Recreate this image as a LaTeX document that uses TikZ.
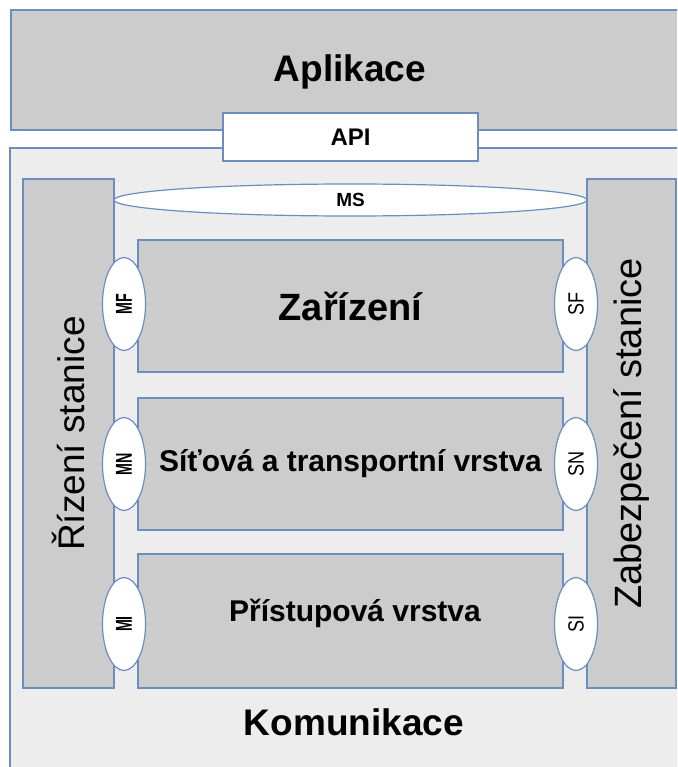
\documentclass[tikz,border=0pt]{standalone}
\usepackage{fontspec}
\usepackage{graphicx}
\setmainfont{Liberation Sans}
\usetikzlibrary{shapes.geometric}
\definecolor{bordercol}{HTML}{6C8EBF}
\definecolor{boxgray}{HTML}{CCCCCC}
\definecolor{bggray}{HTML}{EDEDED}
\newcommand{\fsz}[1]{\fontsize{#1}{#1}\selectfont}
\begin{document}
\begin{tikzpicture}[x=1pt,y=-1pt,
  outl/.style={draw=bordercol, line width=1.2pt},
  graybox/.style={outl, fill=boxgray},
  layerbox/.style={graybox, minimum width=425pt, minimum height=132pt, inner sep=0pt},
  whitebox/.style={outl, fill=white},
  sideell/.style={outl, fill=white, ellipse, minimum width=43pt, minimum height=93pt, inner sep=0pt},
  lbl/.style={inner sep=0pt, text=black}]
\useasboundingbox (0,0) rectangle (677,767);
\clip (0,0) rectangle (677,767);
% Aplikace
\path[graybox] (11,10) rectangle (720,130);
\node[lbl] (apl) at (350,72) {\fsz{37}\bfseries Aplikace};
% Komunikace background
\path[outl, fill=bggray] (10,148) rectangle (720,800);
\node[lbl] (kom) at (354,722) {\fsz{37}\bfseries Komunikace};
% API
\node[whitebox, minimum width=255pt, minimum height=48pt, inner sep=0pt] (api) at (350.5,137) {\fsz{24}\bfseries API};
% side boxes
\node[graybox, minimum width=91pt, minimum height=509pt, inner sep=0pt] (rizeni) at (68.5,433.5) {\rotatebox{90}{\fsz{37}Řízení stanice}};
\path[graybox] (587,179) rectangle (676,688);
\node[lbl, rotate=90] (zabez) at (631,433.5) {\fsz{38}Zabezpečení stanice};
% MS ellipse
\node[outl, fill=white, ellipse, minimum width=473pt, minimum height=32pt, inner sep=0pt] (ms) at (350.5,200) {\fsz{19}\bfseries MS};
% layers
\node[layerbox] (zar) at (350.5,306) {\fsz{38}\bfseries Zařízení};
\node[layerbox] (sit) at (350.5,464) {\fsz{30}\bfseries Síťová a transportní vrstva};
\node[layerbox, minimum height=134pt] (pri) at (350.5,621) {};
\node[lbl] (pritxt) at (355,613) {\fsz{30}\bfseries Přístupová vrstva};
% small ellipses left
\node[sideell] (mf) at (124,304) {\rotatebox{90}{\scalebox{0.62}[1]{\fsz{23}\bfseries MF}}};
\node[sideell] (mn) at (124,464) {\rotatebox{90}{\scalebox{0.62}[1]{\fsz{23}\bfseries MN}}};
\node[sideell] (mi) at (124,624) {\rotatebox{90}{\scalebox{0.62}[1]{\fsz{23}\bfseries MI}}};
% small ellipses right
\node[sideell] (sf) at (576,304) {\rotatebox{90}{\scalebox{0.82}[1]{\fsz{22}SF}}};
\node[sideell] (sn) at (576,464) {\rotatebox{90}{\scalebox{0.82}[1]{\fsz{22}SN}}};
\node[sideell] (si) at (576,624) {\rotatebox{90}{\scalebox{0.82}[1]{\fsz{22}SI}}};
\end{tikzpicture}
\end{document}
